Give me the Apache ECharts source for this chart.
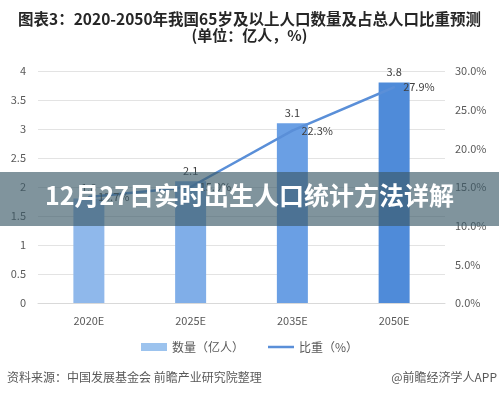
<!DOCTYPE html>
<html>
<head>
<meta charset="utf-8">
<script src="https://cdn.jsdelivr.net/npm/echarts@6/dist/echarts.min.js"></script>
<style>
html,body{margin:0;padding:0;background:#fff;}
#chart{width:499px;height:399px;}
</style>
</head>
<body>
<div id="chart"></div>
<script>
const categories = ['2020E', '2025E', '2035E', '2050E'];
const populationValues = [1.8, 2.1, 3.1, 3.8];
const shareValues = [13.7, 15.0, 22.3, 27.9];
const barColors = ['#8fb8eb', '#80aee8', '#6a9fe4', '#4f8bd9'];
const titleText = '图表3：2020-2050年我国65岁及以上人口数量及占总人口比重预测';
const subtitleText = '(单位：亿人，%)';
const bannerText = '12月27日实时出生人口统计方法详解';
const sourceText = '资料来源：中国发展基金会 前瞻产业研究院整理';
const brandText = '@前瞻经济学人APP';
const seriesNames = ['数量（亿人）', '比重（%）'];

const FONT = '"Noto Sans CJK SC", "Noto Sans", sans-serif';
const chart = echarts.init(document.getElementById('chart'), null, {renderer: 'canvas'});
chart.setOption({
  animation: false,
  backgroundColor: '#fff',
  textStyle: {fontFamily: FONT},
  title: {
    text: titleText,
    subtext: subtitleText,
    left: 'center',
    top: 6,
    itemGap: 1,
    textStyle: {fontSize: 15.5, fontWeight: 'bold', color: '#262626', fontFamily: FONT},
    subtextStyle: {fontSize: 15, fontWeight: 'bold', color: '#262626', fontFamily: FONT}
  },
  grid: {left: 38, right: 54, top: 71, bottom: 96, containLabel: false},
  legend: {
    top: 336,
    left: 'center',
    itemWidth: 26,
    itemHeight: 8,
    itemGap: 24,
    symbolKeepAspect: true,
    textStyle: {fontSize: 12, color: '#595959', fontFamily: FONT},
    data: [
      {name: seriesNames[0], icon: 'rect', itemStyle: {color: '#9cc3ee'}},
      {name: seriesNames[1], icon: 'path://M0,0L26,0L26,2.5L0,2.5Z', itemStyle: {color: '#5a8fd8'}}
    ]
  },
  xAxis: {
    type: 'category',
    data: categories,
    axisLine: {lineStyle: {color: '#d9d9d9'}},
    axisTick: {show: false},
    axisLabel: {color: '#595959', fontSize: 11, margin: 12}
  },
  yAxis: [
    {
      type: 'value', min: 0, max: 4, interval: 0.5,
      axisLine: {show: false}, axisTick: {show: false},
      axisLabel: {color: '#595959', fontSize: 11, margin: 12},
      splitLine: {lineStyle: {color: '#e3e3e3'}}
    },
    {
      type: 'value', min: 0, max: 30, interval: 5,
      axisLine: {show: false}, axisTick: {show: false},
      axisLabel: {color: '#595959', fontSize: 11, margin: 10, formatter: v => v.toFixed(1) + '%'},
      splitLine: {show: false}
    }
  ],
  series: [
    {
      name: seriesNames[0],
      type: 'bar',
      barWidth: 31,
      data: populationValues.map((v, i) => ({value: v, itemStyle: {color: barColors[i]}})),
      label: {show: true, position: 'top', color: '#404040', fontSize: 11, distance: 5}
    },
    {
      name: seriesNames[1],
      type: 'line',
      yAxisIndex: 1,
      symbol: 'circle',
      symbolSize: 2,
      showSymbol: true,
      data: shareValues,
      lineStyle: {color: '#5a8fd8', width: 2.5},
      itemStyle: {color: '#5a8fd8'},
      label: {show: true, position: 'right', color: '#404040', fontSize: 11, distance: 8,
        formatter: p => p.value.toFixed(1) + '%'}
    }
  ],
  graphic: [
    {type: 'rect', left: 0, top: 172, z: 100,
      shape: {width: 499, height: 54},
      style: {fill: 'rgba(60,90,105,0.65)'}},
    {type: 'text', left: 'center', top: 183, z: 101,
      style: {text: bannerText, fill: '#ffffff', font: 'bold 25px ' + FONT}},
    {type: 'text', left: 7, top: 371, z: 10,
      style: {text: sourceText, fill: '#595959', font: '12px ' + FONT}},
    {type: 'text', right: 2, top: 371, z: 10,
      style: {text: brandText, fill: '#595959', font: '12px ' + FONT}}
  ]
});
</script>
</body>
</html>
